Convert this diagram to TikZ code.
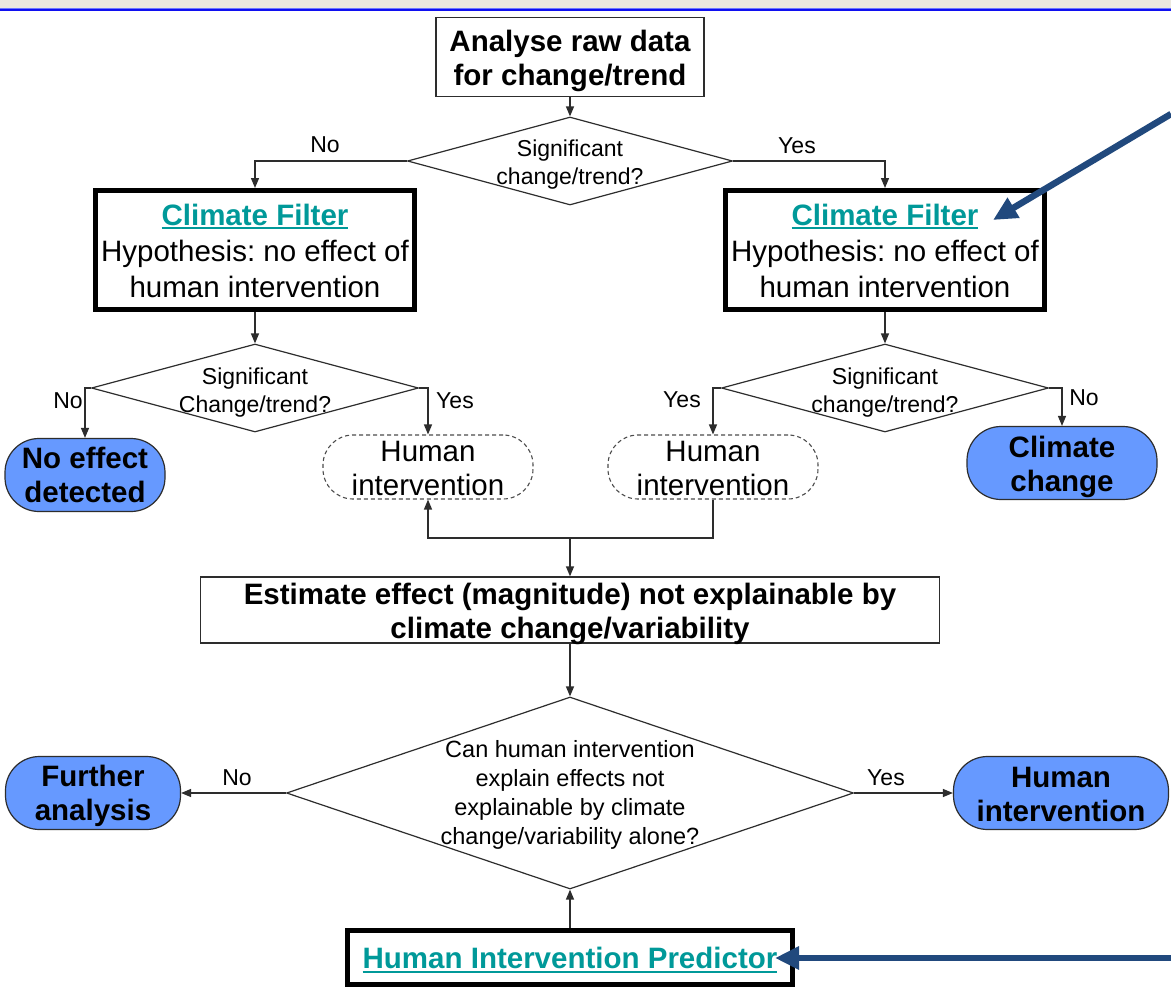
\documentclass[tikz,border=0pt]{standalone}
\usepackage{fontspec}
\setmainfont{Liberation Sans}
\usetikzlibrary{shapes.geometric,arrows.meta}
\definecolor{linkteal}{RGB}{0,153,153}
\definecolor{termblue}{RGB}{102,153,255}
\definecolor{pointerblue}{RGB}{33,73,125}
\definecolor{bargray}{RGB}{236,233,223}
\definecolor{barblue}{RGB}{16,16,240}
\definecolor{barlight}{RGB}{110,120,255}
\definecolor{edgegray}{RGB}{45,45,45}
\frenchspacing
% teal hyperlink-style text with a solid underline
\newcommand\linktext[1]{\leavevmode\vtop{\hbox{#1}\kern2pt\hrule height 1.5pt}}

\begin{document}
\begin{tikzpicture}[x=1pt,y=-1pt,
  % text styles
  plainlines/.style={font=\fontsize{29.5}{36}\selectfont, align=center, inner sep=0pt},
  boldlines/.style={font=\fontsize{29.5}{34}\selectfont\bfseries, align=center, inner sep=0pt},
  caselines/.style={font=\fontsize{29.5}{34}\selectfont, align=center, inner sep=0pt},
  dtext/.style={font=\fontsize{23}{28}\selectfont, align=center, inner sep=0pt},
  answer/.style={font=\fontsize{23}{28}\selectfont, inner sep=0pt},
  % shape styles
  procbox/.style={draw=edgegray, line width=1.3pt, inner sep=0pt},
  filterbox/.style={draw=black, line width=5pt, inner sep=0pt,
    minimum width=319pt, minimum height=119pt},
  decision/.style={diamond, draw=edgegray, line width=1.2pt, inner sep=0pt},
  terminal/.style={draw=edgegray, line width=1.2pt, fill=termblue, rounded corners=34pt,
    inner sep=0pt, minimum height=73pt},
  pending/.style={draw=black!70, dash pattern=on 4pt off 3pt, line width=1.1pt,
    rounded corners=30pt, inner sep=0pt, minimum width=210pt, minimum height=64pt},
  flow/.style={draw=edgegray, line width=1.3pt, -{Triangle[length=10pt,width=8pt]}},
  pointer/.style={draw=pointerblue, line width=6.5pt, -{Triangle[length=24pt,width=22pt]}}
]
\useasboundingbox (0,0) rectangle (1171,1004);
\fill[white] (0,0) rectangle (1171,1004);
% window title strip
\fill[bargray] (0,0) rectangle (1171,8);
\fill[barlight] (0,8) rectangle (1171,9);
\fill[barblue] (0,9) rectangle (1171,11);

% start
\node[procbox, minimum width=268pt, minimum height=79pt] (raw) at (570,57) {};
\node[boldlines] (rawt) at ([yshift=-5pt]raw.center)
  {\strut Analyse raw data\\\strut for change/trend};

% first test
\node[decision, minimum width=325pt, minimum height=88pt] (d1) at (570,161) {};
\node[dtext] (d1t) at (570,165) {\strut Significant\\\strut change/trend?};

% climate filters
\node[filterbox] (cfL) at (255,250) {};
\node[plainlines] (cfLt) at ([yshift=-4pt]cfL.center)
  {\strut{\bfseries\color{linkteal}\linktext{Climate Filter}}\\\strut Hypothesis: no effect of\\\strut human intervention};
\node[filterbox] (cfR) at (885,250) {};
\node[plainlines] (cfRt) at ([yshift=-4pt]cfR.center)
  {\strut{\bfseries\color{linkteal}\linktext{Climate Filter}}\\\strut Hypothesis: no effect of\\\strut human intervention};

% second tests
\node[decision, minimum width=327pt, minimum height=88pt] (d2L) at (255,388) {};
\node[dtext] (d2Lt) at (255,393) {\strut Significant\\\strut Change/trend?};
\node[decision, minimum width=327pt, minimum height=88pt] (d2R) at (885,388) {};
\node[dtext] (d2Rt) at (885,393) {\strut Significant\\\strut change/trend?};

% outcomes of the second tests
\node[terminal, minimum width=160pt] (noeff) at (85,475) {};
\node[boldlines] (noefft) at ([yshift=-4pt]noeff.center) {\strut No effect\\\strut detected};
\node[pending] (hiL) at (428,467) {};
\node[caselines] (hiLt) at ([yshift=-5pt]hiL.center) {\strut Human\\\strut intervention};
\node[pending] (hiR) at (713,467) {};
\node[caselines] (hiRt) at ([yshift=-5pt]hiR.center) {\strut Human\\\strut intervention};
\node[terminal, minimum width=190pt] (climch) at (1062,463) {};
\node[boldlines] (climcht) at ([yshift=-5pt]climch.center) {\strut Climate\\\strut change};

% estimate step
\coordinate (jn) at (570,538);
\node[procbox, minimum width=739pt, minimum height=66pt] (est) at (570,610) {};
\node[boldlines] (estt) at ([yshift=-5pt]est.center)
  {\strut Estimate effect (magnitude) not explainable by\\\strut climate change/variability};

% final test
\node[decision, minimum width=567pt, minimum height=192pt] (d3) at (570,793) {};
\node[dtext, font=\fontsize{23.5}{29}\selectfont] (d3t) at (570,795)
  {\strut Can human intervention\\\strut explain effects not\\\strut explainable by climate\\\strut change/variability alone?};
\node[terminal, minimum width=175pt] (further) at (93,793) {};
\node[boldlines] (furthert) at ([yshift=-4pt]further.center) {\strut Further\\\strut analysis};
\node[terminal, minimum width=215pt] (humint) at (1061,793) {};
\node[boldlines] (humintt) at ([yshift=-5pt]humint.center) {\strut Human\\\strut intervention};

% predictor
\node[draw=black, line width=5pt, inner sep=0pt, minimum width=445pt, minimum height=54pt]
  (pred) at (570,957) {};
\node[boldlines] (predt) at ([yshift=-5pt]pred.center)
  {\strut{\color{linkteal}\linktext{Human Intervention Predictor}}};

% connectors
\draw[flow] (raw.south) -- (d1.north);
\draw[flow] (d1.west) -| (cfL.north);
\draw[flow] (d1.east) -| (cfR.north);
\draw[flow] (cfL.south) -- (d2L.north);
\draw[flow] (cfR.south) -- (d2R.north);
\draw[flow] (d2L.west) -| (noeff.north);
\draw[flow] (d2L.east) -| (hiL.north);
\draw[flow] (d2R.west) -| (hiR.north);
\draw[flow] (d2R.east) -| (climch.north);
\draw[flow] (hiR.south) |- (jn) -| (hiL.south);
\draw[flow] (jn) -- (est.north);
\draw[flow] (est.south) -- (d3.north);
\draw[flow] (d3.west) -- (further.east);
\draw[flow] (d3.east) -- (humint.west);
\draw[flow] (pred.north) -- (d3.south);

% branch labels
\node[answer] (a1) at (325,145) {No};
\node[answer] (a2) at (797,146) {Yes};
\node[answer] (a3) at (68,401) {No};
\node[answer] (a4) at (455,401) {Yes};
\node[answer] (a5) at (682,400) {Yes};
\node[answer] (a6) at (1084,398) {No};
\node[answer] (a7) at (237,778) {No};
\node[answer] (a8) at (886,778) {Yes};

% highlight pointers
\coordinate (p1s) at (1171,114);
\coordinate (p1t) at (993,220);
\coordinate (p2s) at (1171,958);
\coordinate (p2t) at (775,958);
\draw[pointer] (p1s) -- (p1t);
\draw[pointer] (p2s) -- (p2t);
\end{tikzpicture}
\end{document}
